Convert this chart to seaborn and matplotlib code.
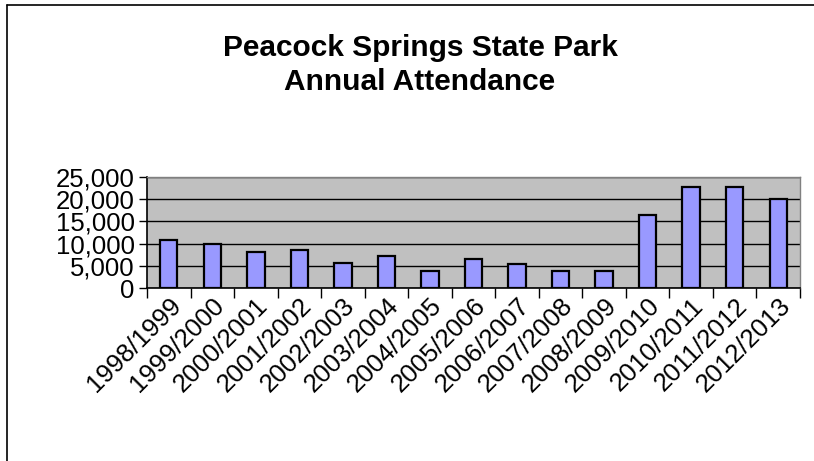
import matplotlib
matplotlib.use("Agg")
import matplotlib.pyplot as plt
import seaborn as sns
import pandas as pd

# ===== DATA =====
seasons = ["1998/1999", "1999/2000", "2000/2001", "2001/2002", "2002/2003",
           "2003/2004", "2004/2005", "2005/2006", "2006/2007", "2007/2008",
           "2008/2009", "2009/2010", "2010/2011", "2011/2012", "2012/2013"]
attendance = [10800, 9900, 8000, 8600, 5700, 7200, 3900, 6500, 5400, 3900,
              3900, 16400, 22800, 22800, 20000]
y_ticks = [0, 5000, 10000, 15000, 20000, 25000]

df = pd.DataFrame({"season": seasons, "attendance": attendance})

# ===== STYLE =====
sns.set_style("white")
plt.rcParams["font.family"] = ["Liberation Sans", "DejaVu Sans"]
plt.rcParams["text.color"] = "black"
plt.rcParams["xtick.color"] = "black"
plt.rcParams["ytick.color"] = "black"

fig = plt.figure(figsize=(8.14, 4.61), dpi=100)
ax = fig.add_axes([147 / 814, 1 - 288 / 461, 653 / 814, 111 / 461])

sns.barplot(data=df, x="season", y="attendance", color="#9999FF",
            width=0.4, edgecolor="black", linewidth=1.6, saturation=1,
            ax=ax, zorder=3)

ax.set_facecolor("#C0C0C0")
ax.set_ylim(0, 25000)
ax.set_xlim(-0.5, len(seasons) - 0.5)
ax.set_yticks(y_ticks)
ax.set_yticklabels([f"{v:,}" for v in y_ticks], fontsize=18.5)
ax.yaxis.grid(True, color="black", linewidth=1)
ax.set_axisbelow(True)

# category boundary ticks on x axis
ax.set_xticks([i - 0.5 for i in range(len(seasons) + 1)], minor=False)
ax.set_xticklabels([""] * (len(seasons) + 1))
ax.set_xticks(range(len(seasons)), minor=True)
ax.set_xticklabels(seasons, minor=True, rotation=45, ha="right",
                   rotation_mode="anchor", fontsize=18.5)
ax.tick_params(axis="x", which="major", length=7, width=1, color="black",
               direction="out", bottom=True)
ax.tick_params(axis="x", which="minor", length=0, pad=4)
ax.tick_params(axis="y", length=6, width=1, color="black", direction="out",
               left=True, pad=3)

for side in ["top", "right"]:
    ax.spines[side].set_color("#808080")
    ax.spines[side].set_linewidth(1)
for side in ["left", "bottom"]:
    ax.spines[side].set_color("black")
    ax.spines[side].set_linewidth(1.2)

ax.set_xlabel("")
ax.set_ylabel("")

fig.text(420 / 814, 1 - 65 / 461, "Peacock Springs State Park\nAnnual Attendance",
         ha="center", va="center", fontsize=21.5, fontweight="bold",
         linespacing=1.3)

# chart frame (left and top edges)
fig.add_artist(plt.Line2D([7 / 814, 7 / 814], [0, 1 - 5 / 461],
                          color="black", linewidth=1.2))
fig.add_artist(plt.Line2D([7 / 814, 1], [1 - 5 / 461, 1 - 5 / 461],
                          color="black", linewidth=1.2))

fig.savefig("out.png", dpi=100)
